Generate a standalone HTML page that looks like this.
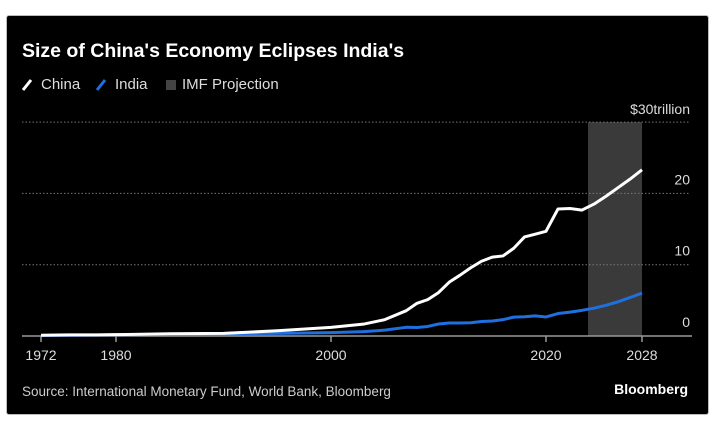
<!DOCTYPE html>
<html><head><meta charset="utf-8"><style>
body{margin:0;background:#fff;width:720px;height:422px;overflow:hidden;font-family:"Liberation Sans",sans-serif}
#panel{position:absolute;left:6px;top:15px;width:701px;height:398px;background:#000;border:1px solid #bbb;border-radius:3px}
</style></head><body>
<div id="panel"></div>
<svg id="chart" width="720" height="422" style="position:absolute;left:0;top:0">
<text x="22" y="57" fill="#fff" font-size="19.5" font-weight="bold">Size of China's Economy Eclipses India's</text>
<g>
<line x1="23" y1="90" x2="31" y2="80" stroke="#fff" stroke-width="3"/>
<text x="41" y="89" fill="#ddd" font-size="15">China</text>
<line x1="97" y1="90" x2="105" y2="80" stroke="#1f6fe0" stroke-width="3"/>
<text x="115" y="89" fill="#ddd" font-size="15">India</text>
<rect x="166" y="80" width="10" height="10" fill="#444"/>
<text x="182" y="89" fill="#ddd" font-size="15">IMF Projection</text>
</g>
<text x="22" y="396" fill="#ccc" font-size="13.5">Source: International Monetary Fund, World Bank, Bloomberg</text>
<text x="688" y="394" fill="#fff" font-size="14" font-weight="bold" text-anchor="end">Bloomberg</text>
</svg>
<script>
const years=[1972,1975,1978,1980,1985,1990,1995,2000,2003,2005,2007,2008,2009,2010,2011,2012,2013,2014,2015,2016,2017,2018,2019,2020,2021,2022,2023,2024,2025,2026,2027,2028];
const china=[0.11,0.16,0.15,0.19,0.31,0.36,0.73,1.21,1.66,2.29,3.55,4.59,5.1,6.09,7.55,8.53,9.57,10.48,11.06,11.23,12.31,13.89,14.28,14.69,17.82,17.88,17.66,18.5,19.6,20.8,22.0,23.3];
const india=[0.07,0.1,0.14,0.19,0.23,0.32,0.36,0.47,0.61,0.82,1.22,1.2,1.34,1.68,1.82,1.83,1.86,2.04,2.1,2.29,2.65,2.7,2.83,2.67,3.15,3.35,3.6,3.9,4.3,4.8,5.4,6.0];
const yTicks=[0,10,20,30];
const xTicks=[1972,1980,2000,2020,2028];
const projStart=2023.5, projEnd=2028;
const NS='http://www.w3.org/2000/svg';
const svg=document.getElementById('chart');
const tickPx=[41,116,331,546,642];
function x(yr){for(let i=0;i<xTicks.length-1;i++){if(yr<=xTicks[i+1]||i==xTicks.length-2){const t=(yr-xTicks[i])/(xTicks[i+1]-xTicks[i]);return tickPx[i]+t*(tickPx[i+1]-tickPx[i]);}}}
function y(v){return 336-v*7.13;}
function mk(tag,attrs){const e=document.createElementNS(NS,tag);for(const k in attrs)e.setAttribute(k,attrs[k]);svg.appendChild(e);return e;}
let r=mk('rect',{x:x(projStart),y:y(30),width:x(projEnd)-x(projStart),height:y(0)-y(30),fill:'#3a3a3a'});


yTicks.forEach(v=>{
 if(v>0){const g=mk('line',{x1:22,x2:690,y1:y(v),y2:y(v),stroke:'#777','stroke-dasharray':'1.5 2','stroke-width':1});
 
 }
 const t=mk('text',{x:690,y:v==30?y(v)-8:y(v)-9,fill:'#ddd','font-size':14,'text-anchor':'end'});
 t.textContent=v==30?'$30trillion':String(v);
 
 
});
let ax=mk('line',{x1:22,x2:692,y1:y(0),y2:y(0),stroke:'#999','stroke-width':1.5});


xTicks.forEach(yr=>{
 const l=mk('line',{x1:x(yr),x2:x(yr),y1:y(0),y2:y(0)+6,stroke:'#999','stroke-width':1.5});
 
 
 const t=mk('text',{x:x(yr),y:360,fill:'#ddd','font-size':14,'text-anchor':'middle'});
 t.textContent=yr;
 
 
});
function line(vals,color,name){
 const p=mk('polyline',{points:years.map((yr,i)=>x(yr)+','+y(vals[i])).join(' '),fill:'none',stroke:color,'stroke-width':3,'stroke-linejoin':'round'});
 
 
}
line(india,'#1f6fe0','india-line');
line(china,'#fff','china-line');
</script>
</body></html>
